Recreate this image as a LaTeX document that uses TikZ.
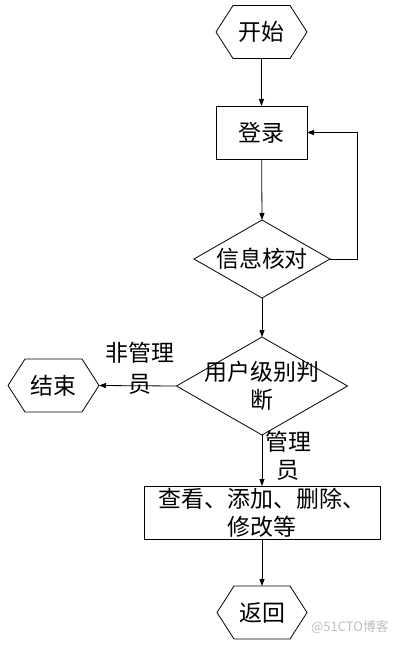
\documentclass[tikz,border=0pt]{standalone}
\usepackage{fontspec}
\setmainfont{Noto Sans CJK SC}
\usetikzlibrary{calc,arrows.meta}
\definecolor{wm}{RGB}{190,190,190}
\newcommand{\hexshape}[1]{%
  \draw[shapeline] ($(#1.north west)+(17,0)$) -- ($(#1.north east)+(-17,0)$) -- (#1.east)
    -- ($(#1.south east)+(-17,0)$) -- ($(#1.south west)+(17,0)$) -- (#1.west) -- cycle;}
\newcommand{\diashape}[1]{%
  \draw[shapeline] (#1.north) -- (#1.east) -- (#1.south) -- (#1.west) -- cycle;}
\begin{document}
\begin{tikzpicture}[x=1bp,y=-1bp,
  shapeline/.style={line width=0.8bp,black},
  box/.style={inner sep=0pt,outer sep=0pt,align=center,font=\fontsize{23}{28}\selectfont},
  rectbox/.style={box,draw,line width=0.8bp},
  lbl/.style={inner sep=0pt,align=center,font=\fontsize{23}{31}\selectfont},
  arr/.style={line width=0.8bp,-{Triangle[length=7bp,width=5bp]}},
  ln/.style={line width=0.8bp}]
\useasboundingbox[fill=white] (0,0) rectangle (402,645);

\node[box,minimum width=91bp,minimum height=53bp] (start) at (261.5,32) {开始};
\node[rectbox,minimum width=91bp,minimum height=53bp] (login) at (261.5,132.5) {登录};
\node[box,minimum width=136bp,minimum height=78bp] (check) at (262,259) {信息核对};
\node[box,minimum width=171bp,minimum height=98bp] (user) at (262,386) {用户级别判\\断};
\node[box,minimum width=91bp,minimum height=53bp] (end) at (53.5,385.5) {结束};
\node[rectbox,minimum width=236bp,minimum height=53bp] (ops) at (262,512.5) {查看、添加、删除、\\修改等};
\node[box,minimum width=90bp,minimum height=53bp] (back) at (262,612.5) {返回};

\hexshape{start}
\diashape{check}
\diashape{user}
\hexshape{end}
\hexshape{back}

\coordinate (loopR) at (357,259);
\coordinate (loopT) at (357,132.5);

\draw[arr] (start) -- (login);
\draw[arr] (login) -- (check.north);
\draw[ln] (check.east) -- (loopR) -- (loopT);
\draw[arr] (loopT) -- (login.east);
\draw[arr] (check.south) -- (user.north);
\draw[arr] (user.west) -- (end.east);
\draw[arr] (user.south) -- (ops);
\draw[arr] (ops) -- (back);

\node[lbl] (lnon) at (140,368) {非管理\\员};
\node[lbl,font=\fontsize{23}{28}\selectfont] (ladm) at (288,456) {管理\\员};

\node[inner sep=0pt,text=wm,font=\fontsize{13}{15}\selectfont] (wmark) at (350,627) {@51CTO博客};
\end{tikzpicture}
\end{document}
